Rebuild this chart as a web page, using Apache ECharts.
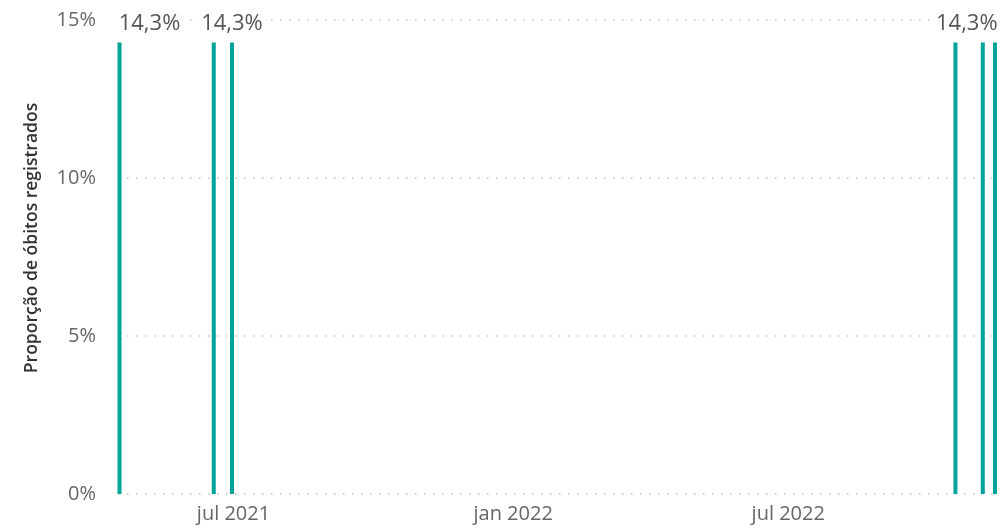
<!DOCTYPE html>
<html>
<head>
<meta charset="utf-8">
<script src="https://cdn.jsdelivr.net/npm/echarts@6/dist/echarts.min.js"></script>
<style>
  html, body { margin: 0; padding: 0; background: #fff; }
  #chart { width: 1000px; height: 529px; }
</style>
</head>
<body>
<div id="chart"></div>
<script>
// datas de registro e proporção (%)
const barDates = ['2021-04-17', '2021-06-18', '2021-06-30', '2022-10-19', '2022-11-06', '2022-11-14'];
const barValues = [14.2857, 14.2857, 14.2857, 14.2857, 14.2857, 14.2857];
// rótulos do eixo x
const xTickDates = ['2021-07-01', '2022-01-01', '2022-07-01'];
const xTickLabels = ['jul 2021', 'jan 2022', 'jul 2022'];
const yTicks = [0, 5, 10, 15];

// quais barras mostram rótulo e deslocamento (o Power BI esconde os que se sobrepõem)
const labelShift = {0: 30, 2: 0, 4: -16};

const chart = echarts.init(document.getElementById('chart'));
const font = '"Open Sans", "Noto Sans", sans-serif';
const ts = d => new Date(d + 'T00:00:00Z').getTime();
const tickTs = xTickDates.map(ts);

const option = {
  animation: false,
  grid: { left: 118, right: 2, top: 20, bottom: 35 },
  xAxis: {
    type: 'value',
    min: ts('2021-04-16'),
    max: ts('2022-11-16'),
    axisLine: { show: false },
    axisTick: { show: false },
    splitLine: { show: false },
    axisLabel: {
      customValues: tickTs,
      formatter: v => {
        const i = tickTs.indexOf(v);
        return i >= 0 ? xTickLabels[i] : '';
      },
      color: '#666',
      fontSize: 20,
      fontFamily: font,
      margin: 10
    }
  },
  yAxis: {
    type: 'value',
    min: yTicks[0],
    max: yTicks[yTicks.length - 1],
    interval: 5,
    axisLine: { show: false },
    axisTick: { show: false },
    axisLabel: {
      formatter: v => v + '%',
      color: '#666',
      fontSize: 20,
      fontFamily: font,
      margin: 22
    },
    splitLine: {
      lineStyle: { color: '#c4c4c4', width: 1.5, type: [1.5, 7.5] }
    }
  },
  graphic: [{
    type: 'text',
    x: 32,
    y: 238,
    rotation: Math.PI / 2,
    style: {
      text: 'Proporção de óbitos registrados',
      fill: '#333',
      font: '600 17.5px "Open Sans", "Noto Sans", sans-serif',
      align: 'center',
      verticalAlign: 'middle'
    }
  }],
  series: [{
    type: 'bar',
    barWidth: 4,
    itemStyle: { color: '#00A398' },
    data: barDates.map((d, i) => {
      const item = { value: [ts(d), barValues[i]] };
      if (labelShift[i] !== undefined) {
        item.label = {
          show: true,
          position: 'top',
          distance: 8,
          offset: [labelShift[i], 0],
          formatter: p => p.value[1].toFixed(1).replace('.', ',') + '%',
          color: '#555',
          fontSize: 22,
          fontFamily: font,
          backgroundColor: '#fff',
          padding: [0, 2]
        };
      }
      return item;
    })
  }]
};

chart.setOption(option);
</script>
</body>
</html>
